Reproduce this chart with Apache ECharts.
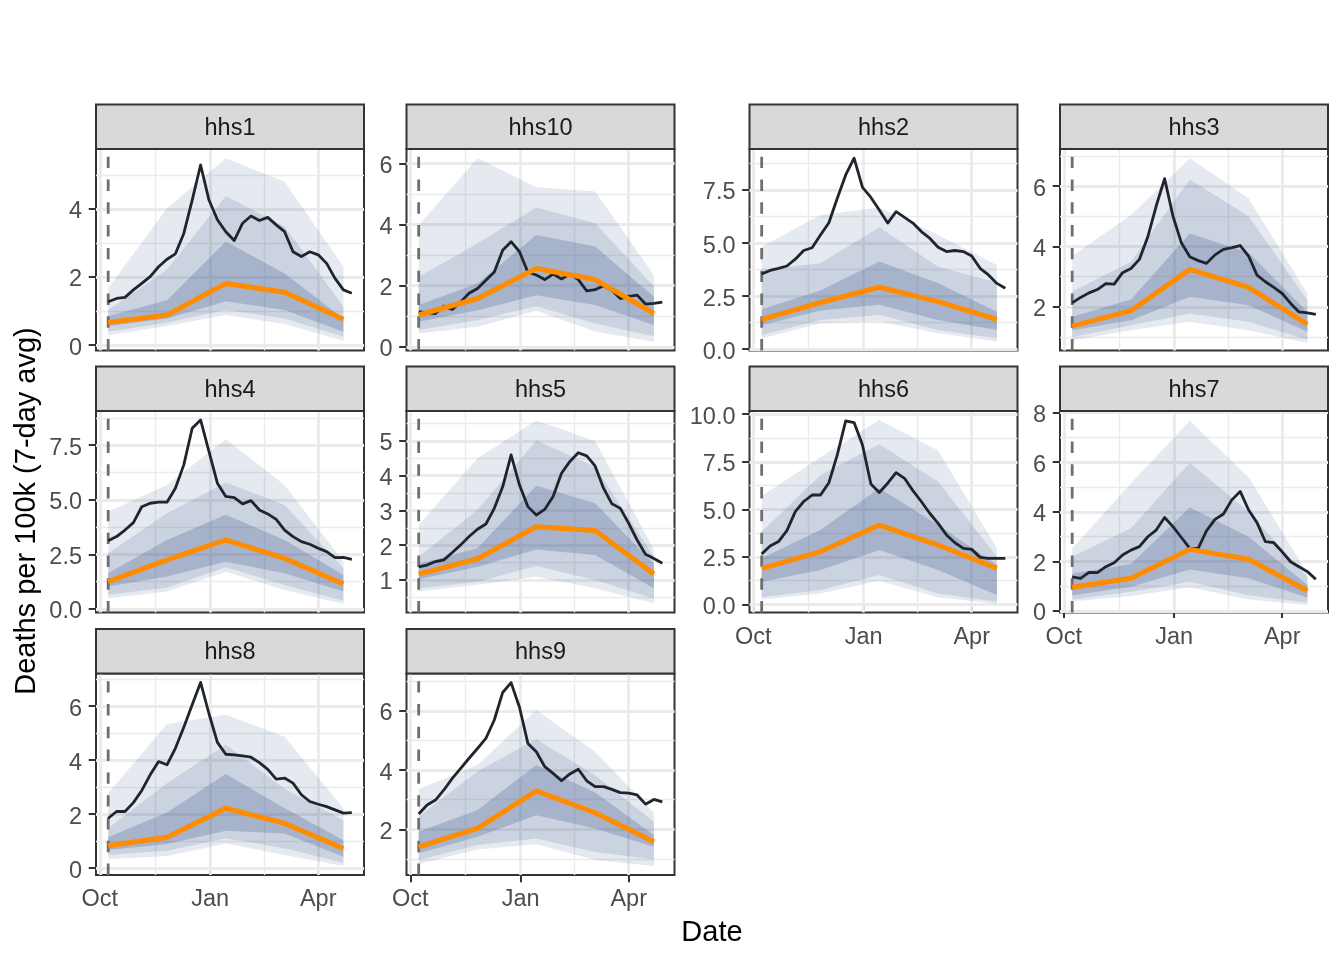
<!DOCTYPE html>
<html>
<head>
<meta charset="utf-8">
<script src="https://cdn.jsdelivr.net/npm/echarts@6/dist/echarts.min.js"></script>
<style>html,body{margin:0;padding:0;background:#fff}#c{width:1344px;height:960px}</style>
</head>
<body>
<div id="c"></div>
<script>
// ---------------- DATA ----------------
const regions = ['hhs1','hhs10','hhs2','hhs3','hhs4','hhs5','hhs6','hhs7','hhs8','hhs9'];
const obsDates = ['2022-10-08','2022-10-15','2022-10-22','2022-10-29','2022-11-05','2022-11-12','2022-11-19','2022-11-26',
  '2022-12-03','2022-12-10','2022-12-17','2022-12-24','2022-12-31','2023-01-07','2023-01-14','2023-01-21','2023-01-28',
  '2023-02-04','2023-02-11','2023-02-18','2023-02-25','2023-03-04','2023-03-11','2023-03-18','2023-03-25','2023-04-01',
  '2023-04-08','2023-04-15','2023-04-22','2023-04-29'];
const fcDates = ['2022-10-08','2022-11-26','2023-01-14','2023-03-04','2023-04-22'];
const forecastStart = '2022-10-08';
const xTickDates = ['2022-10-01','2023-01-01','2023-04-01'];
const xTickLabels = ['Oct','Jan','Apr'];
const yTitle = 'Deaths per 100k (7-day avg)';
const xTitle = 'Date';

// observed (black) weekly values
const obsHhs1  = [1.27,1.37,1.40,1.62,1.81,2.01,2.30,2.52,2.68,3.28,4.26,5.29,4.26,3.68,3.33,3.07,3.58,3.79,3.66,3.75,3.53,3.33,2.74,2.60,2.74,2.65,2.40,1.96,1.62,1.52];
const obsHhs10 = [1.15,1.11,1.09,1.33,1.22,1.47,1.75,1.91,2.18,2.45,3.16,3.44,3.11,2.44,2.35,2.20,2.38,2.22,2.38,2.20,1.83,1.87,2.00,1.85,1.58,1.65,1.69,1.40,1.42,1.46];
const obsHhs2  = [3.55,3.71,3.81,3.92,4.24,4.65,4.78,5.38,5.96,7.11,8.21,9.00,7.62,7.15,6.56,5.94,6.48,6.21,5.94,5.54,5.23,4.80,4.60,4.65,4.60,4.39,3.81,3.50,3.10,2.87];
const obsHhs3  = [2.13,2.31,2.46,2.57,2.77,2.75,3.13,3.27,3.57,4.32,5.34,6.25,5.00,4.12,3.66,3.53,3.44,3.72,3.90,3.96,4.03,3.68,3.05,2.83,2.64,2.44,2.11,1.83,1.80,1.75];
const obsHhs4  = [3.12,3.31,3.61,3.95,4.68,4.84,4.89,4.89,5.53,6.60,8.28,8.66,7.21,5.76,5.15,5.10,4.81,4.96,4.53,4.35,4.10,3.61,3.31,3.08,2.96,2.78,2.62,2.35,2.36,2.27];
const obsHhs5  = [1.38,1.43,1.53,1.58,1.79,2.01,2.25,2.46,2.61,3.06,3.68,4.60,3.73,3.11,2.87,3.03,3.40,4.07,4.41,4.66,4.57,4.28,3.64,3.19,3.06,2.63,2.15,1.74,1.62,1.48];
const obsHhs6  = [2.65,3.07,3.30,3.88,4.88,5.41,5.75,5.75,6.40,7.86,9.65,9.56,8.38,6.33,5.88,6.37,6.93,6.63,5.98,5.41,4.79,4.26,3.65,3.24,2.94,2.89,2.47,2.42,2.42,2.42];
const obsHhs7  = [1.37,1.31,1.55,1.54,1.78,1.94,2.25,2.45,2.59,2.99,3.26,3.77,3.40,2.96,2.52,2.52,3.24,3.69,3.91,4.48,4.82,4.07,3.56,2.79,2.75,2.38,1.98,1.78,1.58,1.27];
const obsHhs8  = [1.85,2.10,2.10,2.43,2.88,3.46,3.95,3.83,4.44,5.22,6.05,6.88,5.72,4.66,4.22,4.20,4.16,4.11,3.91,3.66,3.30,3.34,3.15,2.72,2.47,2.37,2.28,2.16,2.04,2.06];
const obsHhs9  = [2.52,2.82,2.99,3.33,3.72,4.06,4.40,4.73,5.07,5.69,6.62,6.95,6.12,4.90,4.62,4.12,3.89,3.64,3.87,4.03,3.64,3.44,3.44,3.35,3.24,3.22,3.16,2.85,3.01,2.93];

// forecast median (orange)
const medHhs1  = [0.66,0.88,1.81,1.55,0.76];
const medHhs10 = [1.04,1.58,2.56,2.20,1.09];
const medHhs2  = [1.41,2.20,2.92,2.24,1.41];
const medHhs3  = [1.36,1.87,3.24,2.64,1.42];
const medHhs4  = [1.25,2.24,3.16,2.31,1.14];
const medHhs5  = [1.17,1.61,2.53,2.42,1.17];
const medHhs6  = [1.89,2.77,4.17,3.12,1.89];
const medHhs7  = [0.95,1.31,2.48,2.08,0.81];
const medHhs8  = [0.83,1.15,2.22,1.66,0.73];
const medHhs9  = [1.41,2.03,3.30,2.56,1.58];

// outer interval
const lo95Hhs1  = [0.29,0.56,0.88,0.62,0.13], hi95Hhs1  = [1.67,4.02,5.49,4.80,2.30];
const lo95Hhs10 = [0.44,0.66,1.18,0.50,0.17], hi95Hhs10 = [3.98,6.17,5.22,5.08,2.35];
const lo95Hhs2  = [0.51,1.22,1.30,0.75,0.36], hi95Hhs2  = [4.83,6.32,6.68,5.38,3.97];
const lo95Hhs3  = [0.89,1.22,1.50,1.22,0.80], hi95Hhs3  = [3.68,5.04,6.92,5.59,2.44];
const lo95Hhs4  = [0.48,0.79,1.70,0.86,0.22], hi95Hhs4  = [4.45,5.68,7.77,5.68,2.16];
const lo95Hhs5  = [0.67,0.86,1.09,0.76,0.33], hi95Hhs5  = [2.58,4.50,5.59,5.00,1.88];
const lo95Hhs6  = [0.26,0.57,1.24,0.37,0.02], hi95Hhs6  = [5.70,7.74,9.70,8.09,2.95];
const lo95Hhs7  = [0.37,0.60,0.95,0.46,0.23], hi95Hhs7  = [2.52,5.15,7.68,5.39,1.51];
const lo95Hhs8  = [0.33,0.45,0.92,0.49,0.08], hi95Hhs8  = [2.78,5.34,5.68,4.87,2.22];
const lo95Hhs9  = [0.83,1.32,1.50,0.97,0.76], hi95Hhs9  = [3.35,4.17,6.03,4.62,2.56];

// middle interval
const lo80Hhs1  = [0.39,0.66,1.03,0.78,0.25], hi80Hhs1  = [1.03,2.21,4.38,3.48,1.13];
const lo80Hhs10 = [0.55,0.88,1.33,0.76,0.35], hi80Hhs10 = [2.29,3.38,4.56,4.04,1.97];
const lo80Hhs2  = [0.67,1.38,1.62,0.91,0.52], hi80Hhs2  = [3.74,4.05,5.74,3.89,3.14];
const lo80Hhs3  = [1.00,1.39,1.78,1.50,0.91], hi80Hhs3  = [2.50,3.49,6.22,5.00,2.22];
const lo80Hhs4  = [0.64,0.98,1.90,1.09,0.37], hi80Hhs4  = [2.55,4.38,5.79,4.76,1.86];
const lo80Hhs5  = [0.76,0.95,1.40,1.00,0.47], hi80Hhs5  = [1.67,3.01,5.01,4.26,1.67];
const lo80Hhs6  = [0.37,0.75,1.54,0.57,0.14], hi80Hhs6  = [3.82,6.80,8.42,6.45,2.50];
const lo80Hhs7  = [0.46,0.77,1.17,0.63,0.33], hi80Hhs7  = [2.18,3.33,5.98,4.00,1.35];
const lo80Hhs8  = [0.49,0.65,1.11,0.74,0.20], hi80Hhs8  = [1.48,3.15,4.57,2.93,1.78];
const lo80Hhs9  = [0.97,1.47,1.69,1.24,0.99], hi80Hhs9  = [2.43,3.95,5.04,3.83,2.26];

// inner interval
const lo50Hhs1  = [0.56,0.78,1.29,1.03,0.39], hi50Hhs1  = [0.85,1.32,3.04,2.10,0.78];
const lo50Hhs10 = [0.82,1.20,1.69,1.37,0.71], hi50Hhs10 = [1.37,2.07,3.66,3.28,1.64];
const lo50Hhs2  = [1.14,1.82,2.09,1.38,0.91], hi50Hhs2  = [1.88,2.76,4.13,3.11,1.77];
const lo50Hhs3  = [1.22,1.55,2.33,2.05,1.17], hi50Hhs3  = [1.67,2.24,4.43,3.79,1.83];
const lo50Hhs4  = [1.02,1.48,2.16,1.63,0.79], hi50Hhs4  = [1.63,3.16,4.31,3.16,1.55];
const lo50Hhs5  = [1.02,1.38,1.88,1.72,0.76], hi50Hhs5  = [1.46,1.91,3.71,3.21,1.46];
const lo50Hhs6  = [1.19,1.80,2.86,1.80,0.49], hi50Hhs6  = [2.42,3.91,6.11,4.17,2.07];
const lo50Hhs7  = [0.63,0.97,1.67,1.31,0.54], hi50Hhs7  = [1.51,1.89,4.17,2.99,1.04];
const lo50Hhs8  = [0.68,0.90,1.39,1.29,0.43], hi50Hhs8  = [1.15,2.06,3.49,2.22,1.04];
const lo50Hhs9  = [1.19,1.75,2.48,2.03,1.41], hi50Hhs9  = [1.92,2.65,4.17,3.24,1.81];

// y tick labels and axis limits per panel
const yTicksHhs1  = [0,2,4],            yLimHhs1  = [-0.16,5.76];
const yTicksHhs10 = [0,2,4,6],          yLimHhs10 = [-0.12,6.47];
const yTicksHhs2  = [0,2.5,5,7.5],      yLimHhs2  = [-0.06,9.43];
const yTicksHhs3  = [2,4,6],            yLimHhs3  = [0.55,7.23];
const yTicksHhs4  = [0,2.5,5,7.5],      yLimHhs4  = [-0.17,9.07];
const yTicksHhs5  = [1,2,3,4,5],        yLimHhs5  = [0.065,5.86];
const yTicksHhs6  = [0,2.5,5,7.5,10],   yLimHhs6  = [-0.43,10.17];
const yTicksHhs7  = [0,2,4,6,8],        yLimHhs7  = [-0.07,8.07];
const yTicksHhs8  = [0,2,4,6],          yLimHhs8  = [-0.25,7.21];
const yTicksHhs9  = [2,4,6],            yLimHhs9  = [0.46,7.26];

// ---------------- BUILD ----------------
const obsAll  = [obsHhs1,obsHhs10,obsHhs2,obsHhs3,obsHhs4,obsHhs5,obsHhs6,obsHhs7,obsHhs8,obsHhs9];
const medAll  = [medHhs1,medHhs10,medHhs2,medHhs3,medHhs4,medHhs5,medHhs6,medHhs7,medHhs8,medHhs9];
const lo95All = [lo95Hhs1,lo95Hhs10,lo95Hhs2,lo95Hhs3,lo95Hhs4,lo95Hhs5,lo95Hhs6,lo95Hhs7,lo95Hhs8,lo95Hhs9];
const hi95All = [hi95Hhs1,hi95Hhs10,hi95Hhs2,hi95Hhs3,hi95Hhs4,hi95Hhs5,hi95Hhs6,hi95Hhs7,hi95Hhs8,hi95Hhs9];
const lo80All = [lo80Hhs1,lo80Hhs10,lo80Hhs2,lo80Hhs3,lo80Hhs4,lo80Hhs5,lo80Hhs6,lo80Hhs7,lo80Hhs8,lo80Hhs9];
const hi80All = [hi80Hhs1,hi80Hhs10,hi80Hhs2,hi80Hhs3,hi80Hhs4,hi80Hhs5,hi80Hhs6,hi80Hhs7,hi80Hhs8,hi80Hhs9];
const lo50All = [lo50Hhs1,lo50Hhs10,lo50Hhs2,lo50Hhs3,lo50Hhs4,lo50Hhs5,lo50Hhs6,lo50Hhs7,lo50Hhs8,lo50Hhs9];
const hi50All = [hi50Hhs1,hi50Hhs10,hi50Hhs2,hi50Hhs3,hi50Hhs4,hi50Hhs5,hi50Hhs6,hi50Hhs7,hi50Hhs8,hi50Hhs9];
const yTicksAll = [yTicksHhs1,yTicksHhs10,yTicksHhs2,yTicksHhs3,yTicksHhs4,yTicksHhs5,yTicksHhs6,yTicksHhs7,yTicksHhs8,yTicksHhs9];
const yLimAll = [yLimHhs1,yLimHhs10,yLimHhs2,yLimHhs3,yLimHhs4,yLimHhs5,yLimHhs6,yLimHhs7,yLimHhs8,yLimHhs9];

// dates -> day numbers (numeric x scale)
function dayNum(s){ const p = s.split('-').map(Number); return Date.UTC(p[0], p[1]-1, p[2]) / 86400000; }
const obsT = obsDates.map(dayNum), fcT = fcDates.map(dayNum), fsT = dayNum(forecastStart);
const tMin = Math.min(...obsT, ...fcT, fsT), tMax = Math.max(...obsT, ...fcT, fsT);
const xMin = tMin - 0.05*(tMax - tMin), xMax = tMax + 0.05*(tMax - tMin);
const xMajor = xTickDates.map(dayNum);
const xMinor = []; for (let k=0;k<xMajor.length-1;k++) xMinor.push((xMajor[k]+xMajor[k+1])/2);

const FONT = '"Liberation Sans", Arial, Helvetica, sans-serif';
const colLeft = [96, 406.5, 749.5, 1060], rowTop = [149, 411, 673.5];
const PW = 268, PH = 201.5, SH = 44.5;
const bottomPanels = ['hhs6','hhs7','hhs8','hhs9'];
const BAND = [ 'rgba(68,96,146,0.14)', 'rgba(68,96,146,0.16)', 'rgba(68,96,146,0.27)' ];

const grids=[], xAxes=[], yAxes=[], series=[], graphics=[];

regions.forEach((name, i) => {
  const row = Math.floor(i/4), col = i%4;
  const L = colLeft[col], T = rowTop[row];
  const showX = bottomPanels.includes(name);
  const ticks = yTicksAll[i], lim = yLimAll[i];
  const dec = ticks.some(v => Math.abs(v - Math.round(v)) > 1e-9) ? 1 : 0;
  const step = ticks[1]-ticks[0];
  const yMinor = [];
  const ext = [ticks[0]-step, ...ticks, ticks[ticks.length-1]+step];
  for (let k=0;k<ext.length-1;k++){ const m=(ext[k]+ext[k+1])/2; if (m>lim[0] && m<lim[1]) yMinor.push(m); }

  grids.push({left:L, top:T, width:PW, height:PH, show:true, backgroundColor:'#ffffff',
    borderColor:'#333333', borderWidth:2, containLabel:false, outerBoundsMode:'none'});

  xAxes.push({type:'value', gridIndex:i, min:xMin, max:xMax,
    axisLine:{show:false}, splitLine:{show:false},
    axisTick:{show:showX, customValues:xMajor, length:7.3, lineStyle:{color:'#333333', width:2}},
    axisLabel:{show:showX, customValues:xMajor, margin:13, color:'#4D4D4D', fontSize:23.5, fontFamily:FONT,
      formatter: v => { let b=0; xMajor.forEach((t,k)=>{ if (Math.abs(t-v) < Math.abs(xMajor[b]-v)) b=k; }); return xTickLabels[b]; } }
  });
  yAxes.push({type:'value', gridIndex:i, min:lim[0], max:lim[1],
    axisLine:{show:false}, splitLine:{show:false},
    axisTick:{show:true, customValues:ticks, length:7.3, lineStyle:{color:'#333333', width:2}},
    axisLabel:{customValues:ticks, margin:14, color:'#4D4D4D', fontSize:23.5, fontFamily:FONT,
      formatter: v => '{n|' + Number(v).toFixed(dec) + '}',
      rich:{ n:{ fontSize:23.5, fontFamily:FONT, color:'#4D4D4D', padding:[6,0,0,0] } } }
  });

  const gl = [];
  xMajor.forEach(t => gl.push({xAxis:t, lineStyle:{color:'#EBEBEB', width:2.8, type:'solid'}}));
  xMinor.forEach(t => gl.push({xAxis:t, lineStyle:{color:'#EBEBEB', width:1.4, type:'solid'}}));
  ticks.forEach(v => gl.push({yAxis:v, lineStyle:{color:'#EBEBEB', width:2.8, type:'solid'}}));
  yMinor.forEach(v => gl.push({yAxis:v, lineStyle:{color:'#EBEBEB', width:1.4, type:'solid'}}));

  series.push({type:'line', xAxisIndex:i, yAxisIndex:i, silent:true, z:1,
    data: fcT.map((t,k)=>[t, medAll[i][k]]), showSymbol:false, lineStyle:{opacity:0},
    markLine:{silent:true, z:1, symbol:['none','none'], label:{show:false}, animation:false, data:gl}});

  const bands = [[lo95All[i],hi95All[i]],[lo80All[i],hi80All[i]],[lo50All[i],hi50All[i]]];
  bands.forEach((b, bi) => {
    const lo=b[0], hi=b[1];
    series.push({type:'custom', xAxisIndex:i, yAxisIndex:i, silent:true, z:2,
      data: fcT.map((t,k)=>[t, lo[k], hi[k]]), encode:{x:0, y:[1,2]},
      renderItem: (params, api) => {
        if (params.dataIndex !== 0) return null;
        const pts = [];
        for (let k=0;k<fcT.length;k++) pts.push(api.coord([fcT[k], hi[k]]));
        for (let k=fcT.length-1;k>=0;k--) pts.push(api.coord([fcT[k], lo[k]]));
        return {type:'polygon', shape:{points:pts}, style:{fill:BAND[bi], stroke:null}};
      }});
  });

  series.push({type:'line', xAxisIndex:i, yAxisIndex:i, silent:true, z:3,
    data:[[fsT, lim[0]],[fsT, lim[1]]], showSymbol:false,
    lineStyle:{color:'#6E6E6E', width:2.8, type:[11.4,11.4], cap:'butt'}});

  series.push({type:'line', xAxisIndex:i, yAxisIndex:i, silent:true, z:4,
    data: obsT.map((t,k)=>[t, obsAll[i][k]]), showSymbol:false,
    lineStyle:{color:'#1F242D', width:2.8, join:'round', cap:'butt'}});

  series.push({type:'line', xAxisIndex:i, yAxisIndex:i, silent:true, z:5,
    data: fcT.map((t,k)=>[t, medAll[i][k]]), showSymbol:false,
    lineStyle:{color:'#FF8C00', width:5, join:'round', cap:'butt'}});

  graphics.push({type:'rect', shape:{x:L, y:T-SH, width:PW, height:SH}, silent:true, z:10,
    style:{fill:'#D9D9D9', stroke:'#333333', lineWidth:2}});
  graphics.push({type:'text', x:L+PW/2, y:T-SH/2+1.5, silent:true, z:11,
    style:{text:name, fontSize:23.5, fontFamily:FONT, fill:'#1A1A1A', align:'center', verticalAlign:'middle',
      textAlign:'center', textVerticalAlign:'middle'}});
});

graphics.push({type:'text', x:712, y:933, silent:true,
  style:{text:xTitle, fontSize:29, fontFamily:FONT, fill:'#000000', align:'center', verticalAlign:'middle', textAlign:'center', textVerticalAlign:'middle'}});
graphics.push({type:'text', x:27, y:511, rotation:Math.PI/2, silent:true,
  style:{text:yTitle, fontSize:29, fontFamily:FONT, fill:'#000000', align:'center', verticalAlign:'middle', textAlign:'center', textVerticalAlign:'middle'}});

const chart = echarts.init(document.getElementById('c'), null, {renderer:'canvas', width:1344, height:960});
chart.setOption({
  animation:false,
  backgroundColor:'#ffffff',
  grid:grids, xAxis:xAxes, yAxis:yAxes, series:series, graphic:graphics
});
</script>
</body>
</html>
